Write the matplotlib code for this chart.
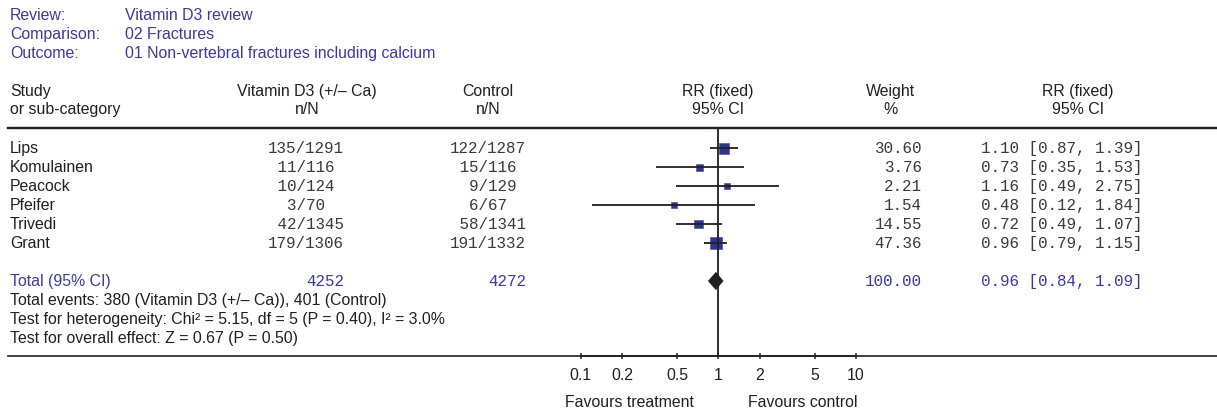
import matplotlib
matplotlib.use("Agg")
import matplotlib.pyplot as plt
from matplotlib.lines import Line2D
import numpy as np

# ---------------- data ----------------
review_labels = ["Review:", "Comparison:", "Outcome:"]
review_values = ["Vitamin D3 review", "02 Fractures", "01 Non-vertebral fractures including calcium"]

studies = ["Lips", "Komulainen", "Peacock", "Pfeifer", "Trivedi", "Grant"]
treat_n = [135, 11, 10, 3, 42, 179]
treat_N = [1291, 116, 124, 70, 1345, 1306]
ctrl_n = [122, 15, 9, 6, 58, 191]
ctrl_N = [1287, 116, 129, 67, 1341, 1332]
weights = [30.60, 3.76, 2.21, 1.54, 14.55, 47.36]
rr = [1.10, 0.73, 1.16, 0.48, 0.72, 0.96]
rr_lo = [0.87, 0.35, 0.49, 0.12, 0.49, 0.79]
rr_hi = [1.39, 1.53, 2.75, 1.84, 1.07, 1.15]

total_treat_N = 4252
total_ctrl_N = 4272
total_weight = 100.00
pooled_rr = 0.96
pooled_lo = 0.84
pooled_hi = 1.09

stats_lines = [
    "Total events: 380 (Vitamin D3 (+/\u2013 Ca)), 401 (Control)",
    "Test for heterogeneity: Chi\u00b2 = 5.15, df = 5 (P = 0.40), I\u00b2 = 3.0%",
    "Test for overall effect: Z = 0.67 (P = 0.50)",
]
tick_values = [0.1, 0.2, 0.5, 1, 2, 5, 10]
tick_labels = ["0.1", "0.2", "0.5", "1", "2", "5", "10"]

# ---------------- layout ----------------
W, H = 1217, 412
DPI = 100
R0, DR = 148.3, 18.95          # pixel y of first study row, row spacing


def px2row(y):
    return (y - R0) / DR


BLUE = "#3b3b9c"
TXT = "#231f20"
MONO_C = "#3a3a3a"
SQ = "#2d3591"
SANS = ["Liberation Sans", "DejaVu Sans"]
MONO = ["Liberation Mono", "DejaVu Sans Mono"]
FS = 11.45
BASE_OFF = 0.26   # baseline offset (rows) below the visual centre

fig = plt.figure(figsize=(W / DPI, H / DPI), dpi=DPI)
fig.patch.set_facecolor("white")

# full-figure text axes: x in pixels, y in row units
ax_t = fig.add_axes([0, 0, 1, 1])
ax_t.set_xlim(0, W)
ax_t.set_ylim(px2row(H), px2row(0))
ax_t.axis("off")

# forest axes
x01, x10 = 580.7, 856.0
y_top, y_bot = 128.0, 356.0
ax_f = fig.add_axes([x01 / W, (H - y_bot) / H, (x10 - x01) / W, (y_bot - y_top) / H])
ax_f.set_xscale("log")
ax_f.set_xlim(0.1, 10)
ax_f.set_ylim(px2row(y_bot), px2row(y_top))
ax_f.patch.set_alpha(0)
for s in ["top", "left", "right"]:
    ax_f.spines[s].set_visible(False)
ax_f.spines["bottom"].set_linewidth(1.2)
ax_f.spines["bottom"].set_color(TXT)
ax_f.set_yticks([])
ax_f.set_xticks(tick_values)
ax_f.set_xticklabels(tick_labels, fontfamily=SANS, fontsize=FS, color=TXT)
ax_f.xaxis.set_minor_locator(matplotlib.ticker.NullLocator())
ax_f.tick_params(axis="x", direction="inout", length=5, width=1.1, color=TXT, pad=6)

# horizontal rules (figure decoration)
fig.add_artist(Line2D([8 / W, 1.0], [(H - y_top) / H] * 2, color=TXT, lw=1.7))
fig.add_artist(Line2D([8 / W, 1.0], [(H - y_bot) / H] * 2, color=TXT, lw=1.2))

# reference line at RR = 1
ax_f.axvline(1, color=TXT, lw=1.3, zorder=3)

rows = np.arange(len(studies))
sizes_px = [4.68 + 1.06 * np.sqrt(w) for w in weights]
ax_f.scatter(rr, rows, marker="s", s=[(p * 0.72) ** 2 for p in sizes_px],
             color=SQ, edgecolors="#5058aa", linewidths=0.5, zorder=2)
ax_f.hlines(rows, rr_lo, rr_hi, color=TXT, lw=1.3, zorder=4)

total_row = len(studies) + 1
dh = 0.48
ax_f.fill([pooled_lo, pooled_rr, pooled_hi, pooled_rr],
          [total_row, total_row - dh, total_row, total_row + dh],
          color=TXT, zorder=5, lw=0)

# ---------------- text ----------------
def st(x, r, s, ha="left", color=TXT, mono=False):
    ax_t.text(x, r + BASE_OFF, s, ha=ha, va="baseline", fontsize=FS, color=color,
              fontfamily=MONO if mono else SANS)


for i, (lab, val) in enumerate(zip(review_labels, review_values)):
    r = px2row(15 + 18.9 * i)
    st(10, r, lab, color=BLUE)
    st(125, r, val, color=BLUE)

h1, h2 = px2row(91), px2row(109)
st(10, h1, "Study")
st(10, h2, "or sub-category")
for xc, a, b in [(307, "Vitamin D3 (+/\u2013 Ca)", "n/N"), (488, "Control", "n/N"),
                 (718, "RR (fixed)", "95% CI"), (890, "Weight", "%"),
                 (1078, "RR (fixed)", "95% CI")]:
    st(xc, h1, a, ha="center")
    st(xc, h2, b, ha="center")


def nn(n, N):
    s = f"{n}/{N}"
    pad = 8 - len(s)
    left = (pad + 1) // 2
    return " " * left + s + " " * (pad - left)


for i, name in enumerate(studies):
    st(10, i, name)
    st(306, i, nn(treat_n[i], treat_N[i]), ha="center", color=MONO_C, mono=True)
    st(488, i, nn(ctrl_n[i], ctrl_N[i]), ha="center", color=MONO_C, mono=True)
    st(922, i, f"{weights[i]:.2f}", ha="right", color=MONO_C, mono=True)
    st(981, i, f"{rr[i]:.2f} [{rr_lo[i]:.2f}, {rr_hi[i]:.2f}]", color=MONO_C, mono=True)

st(10, total_row, "Total (95% CI)", color=BLUE)
st(344, total_row, f"{total_treat_N}", ha="right", color=BLUE, mono=True)
st(526, total_row, f"{total_ctrl_N}", ha="right", color=BLUE, mono=True)
st(922, total_row, f"{total_weight:.2f}", ha="right", color=BLUE, mono=True)
st(981, total_row, f"{pooled_rr:.2f} [{pooled_lo:.2f}, {pooled_hi:.2f}]", color=BLUE, mono=True)

for k, line in enumerate(stats_lines):
    st(10, total_row + 1 + k, line)

fr = px2row(402)
st(629.5, fr, "Favours treatment", ha="center")
st(803, fr, "Favours control", ha="center")

fig.savefig("out.png", dpi=DPI)
